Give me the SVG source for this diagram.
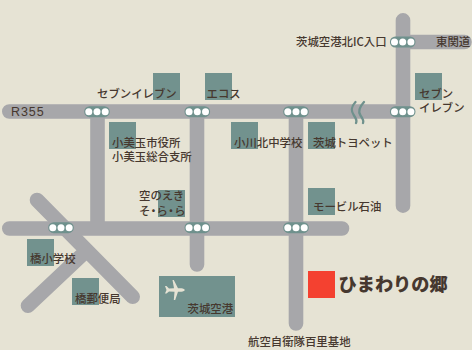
<svg xmlns="http://www.w3.org/2000/svg" width="472" height="350" viewBox="0 0 472 350">
<style>
.road{fill:none;stroke:#a7a7aa;stroke-width:14.6;stroke-linecap:round}
.sq{fill:#72928e}
.dot{fill:#fff}
.pillbg{fill:#6f918d}
.wave{fill:none;stroke:#6f918d;stroke-width:2.3;stroke-linecap:round}
text{font-family:"Noto Sans CJK JP","Noto Sans",sans-serif;font-size:11.4px;font-weight:500;fill:#46382f}
</style>
<defs>
<g id="lights"><rect class="pillbg" x="-12.800" y="-5.500" width="25.600" height="11" rx="5.500"/><circle class="dot" cx="-8.200" r="3.500"/><circle class="dot" r="3.500"/><circle class="dot" cx="8.200" r="3.500"/></g>
</defs>
<rect width="472" height="350" fill="#e6e3d4"/>
<g id="connectors">
<path class="road" d="M9.300 111.500H403M403 20.300V205.700M403 42H464.500M97.500 111.500V228.500M197 111.500V264.500M296 111.500V323.500M9.300 228.500H342"/>
<path class="road" d="M37 200L132.700 296.800M28 305.700L84 253"/>
<path class="wave" d="M355.500 102C350 108 351.500 112 354 115.500C356.500 119 357 121 356 123"/>
<path class="wave" d="M364 102C358.500 108 358 112 360.500 115.500C363 119 364 121 363 123"/>
</g>
<g id="light-1"><use href="#lights" x="97" y="111.700"/></g>
<g id="light-2"><use href="#lights" x="197.300" y="111.700"/></g>
<g id="light-3"><use href="#lights" x="296" y="111.700"/></g>
<g id="light-4"><use href="#lights" x="402.700" y="111.700"/></g>
<g id="light-5"><use href="#lights" x="402.700" y="42"/></g>
<g id="light-6"><use href="#lights" x="61" y="227.700"/></g>
<g id="light-7"><use href="#lights" x="197.300" y="227.700"/></g>
<g id="light-8"><use href="#lights" x="296" y="227.700"/></g>
<g id="r355"><text x="11" y="116" style="font-family:'Liberation Sans',sans-serif;font-size:12.500px;letter-spacing:.9px">R355</text></g>
<g id="higashikanto"><text x="436" y="46">東関道</text></g>
<g id="ic"><text x="296" y="46">茨城空港北IC入口</text></g>
<g id="seven1"><rect class="sq" x="153" y="73" width="27" height="27"/><text x="97" y="98">セブンイレブン</text></g>
<g id="ecos"><rect class="sq" x="205" y="73" width="27" height="27"/><text x="206.500" y="98">エコス</text></g>
<g id="seven2"><rect class="sq" x="415" y="73" width="27" height="27"/><text x="419" y="98">セブン</text><text x="419" y="112">イレブン</text></g>
<g id="omitama"><rect class="sq" x="109" y="122" width="27" height="27"/><text x="112" y="147">小美玉市役所</text><text x="112" y="161">小美玉総合支所</text></g>
<g id="ogawa"><rect class="sq" x="231" y="122" width="27" height="27"/><text x="234" y="147">小川北中学校</text></g>
<g id="toyopet"><rect class="sq" x="308" y="122" width="27" height="27"/><text x="313" y="147">茨城トヨペット</text></g>
<g id="soranoeki"><rect class="sq" x="158" y="190" width="27" height="27"/><text x="139" y="200">空のえき</text><text x="139" y="215" style="letter-spacing:-2.600px">そ・ら・ら</text></g>
<g id="mobil"><rect class="sq" x="308" y="188" width="27" height="27"/><text x="313" y="211">モービル石油</text></g>
<g id="hashi-school"><rect class="sq" x="27" y="239" width="27" height="27"/><text x="30" y="263">橋小学校</text></g>
<g id="hashi-post"><rect class="sq" x="72" y="278" width="27" height="27"/><text x="75" y="303">橋郵便局</text></g>
<g id="airport"><rect class="sq" x="159" y="276" width="76" height="41"/>
<path d="M185 290C183.500 288.500 182 288.300 180 288.300L178 288.300L173.800 280L172.500 280L174 288.300L169 288.500L166.500 286L165 286L166.500 290L165 293.500L166.500 293.500L169 291.500L174.500 291.700L173.800 300L175.200 300L178 291.700L180 291.700C182 291.700 183.500 291.500 185 290Z" fill="#e6e3d4"/>
<text x="187.500" y="313">茨城空港</text></g>
<g id="himawari"><rect x="308" y="271" width="27" height="27" fill="#f44130"/><text x="338.500" y="291" style="font-size:18.200px;font-weight:900">ひまわりの郷</text></g>
<g id="base"><text x="248" y="346">航空自衛隊百里基地</text></g>
</svg>
